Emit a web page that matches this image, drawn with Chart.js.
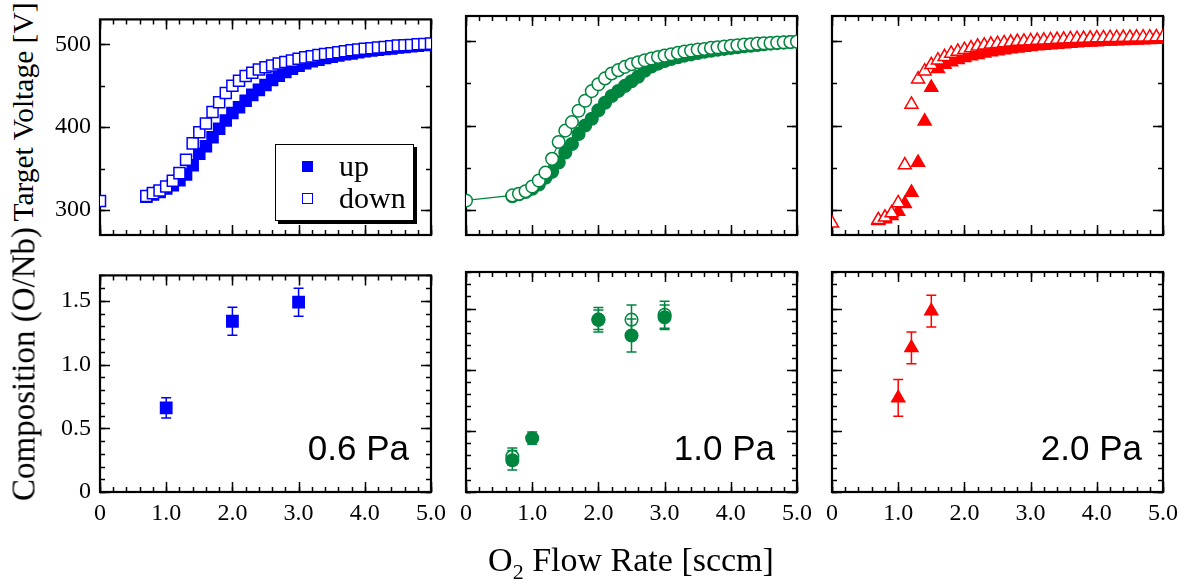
<!DOCTYPE html>
<html>
<head>
<meta charset="utf-8">
<script src="https://cdn.jsdelivr.net/npm/chart.js@4.4.1/dist/chart.umd.min.js"></script>
<style>
  body{margin:0;background:#fff;width:1188px;height:583px;position:relative;overflow:hidden;font-family:'Liberation Serif',serif;}
  canvas{position:absolute;}
  .t{position:absolute;white-space:nowrap;color:#000;}
  .rot{transform:translate(-50%,-50%) rotate(-90deg);}
  .pa{font-family:'Liberation Sans',Arial,sans-serif;font-size:35px;line-height:35px;top:430px;}
  #legend{position:absolute;left:275px;top:144px;width:137px;height:75px;border:1px solid #000;box-shadow:3px 3px 0 #000;background:#fff;}
  #legend .mk{position:absolute;left:26px;width:9px;height:9px;border:1.5px solid #0000ff;}
  #legend .tx{position:absolute;left:63px;font-size:30px;line-height:30px;}
</style>
</head>
<body>
<canvas id="p1"></canvas><canvas id="p2"></canvas><canvas id="p3"></canvas>
<canvas id="p4"></canvas><canvas id="p5"></canvas><canvas id="p6"></canvas>

<div class="t rot" style="left:23px;top:112px;font-size:29.5px;">Target Voltage [V]</div>
<div class="t rot" style="left:24px;top:364px;font-size:33px;">Composition (O/Nb)</div>
<div class="t" style="left:631px;top:543px;font-size:34px;line-height:34px;transform:translateX(-50%);">O<span style="font-size:22px;position:relative;top:8px;">2</span> Flow Rate [sccm]</div>

<div id="legend">
  <span class="mk" style="top:16px;background:#0000ff;"></span><span class="tx" style="top:6px;">up</span>
  <span class="mk" style="top:48px;background:#fff;"></span><span class="tx" style="top:38px;">down</span>
</div>

<div class="t pa" style="right:779px;">0.6 Pa</div>
<div class="t pa" style="right:413px;">1.0 Pa</div>
<div class="t pa" style="right:46px;">2.0 Pa</div>

<script>
// ---- data ----
const flowDown=[0,0.7,0.8,0.9,1.0,1.1,1.2,1.3,1.4,1.5,1.6,1.7,1.8,1.9,2.0,2.1,2.2,2.3,2.4,2.5,2.6,2.7,2.8,2.9,3.0,3.1,3.2,3.3,3.4,3.5,3.6,3.7,3.8,3.9,4.0,4.1,4.2,4.3,4.4,4.5,4.6,4.7,4.8,4.9,5.0];
const flowUp=[0.7,0.8,0.9,1.0,1.1,1.2,1.3,1.4,1.5,1.6,1.7,1.8,1.9,2.0,2.1,2.2,2.3,2.4,2.5,2.6,2.7,2.8,2.9,3.0,3.1,3.2,3.3,3.4,3.5,3.6,3.7,3.8,3.9,4.0,4.1,4.2,4.3,4.4,4.5,4.6,4.7,4.8,4.9,5.0];

// target voltage, 0.6 Pa
const voltUp06=[316,319,322,326,330,336,343,354,368,377,388,398,408,417,424,432,439,445,451,457,462,466.5,470.5,474,477,479.5,481.5,483.5,485,486.5,488,489,490.3,491.5,492.5,493.5,494.3,495,496,496.8,497.5,498.2,499,499.8];
const voltDown06=[311,317,320.5,323.7,328.4,335.5,344.6,360.7,380.5,393.9,404.5,418.3,430.2,441.2,449.9,455.9,461.8,465.7,469.6,472.4,474.3,476.7,478.7,480.3,482.6,484.2,485.4,487,488.2,489.3,490.5,491.7,492.9,493.7,494.5,495.3,496,496.8,497.6,498.4,498.8,499.2,500,500.4,500.8];
// target voltage, 1.0 Pa
const voltUp10=[316,318.5,321,325,330,338,345,356,368,378,390,400,408,418,427,435,441,447,452.5,458,465,470,473.5,476.5,479,481,483,484.5,486,487.5,488.8,490,491,492,493,494,494.8,495.6,496.4,497.2,497.8,498.4,499,499.5];
const voltDown10=[311,317,319,322,327.6,334.7,344,360.4,380.5,393.9,404,417.5,429.4,440.8,449,455.9,461.8,465.7,469.6,472.8,475.1,477.5,479.5,481.4,483,484.6,486.2,487.8,489,490.2,490.9,492.1,492.9,493.7,494.5,495.3,496,496.4,497.2,497.6,498,498.4,498.8,499.2,499.6];
// target voltage, 2.0 Pa
const voltUp20=[287,289,293,298,307,320.5,356,405,445,467.5,472.5,475.5,478,480.5,482.5,484,485.8,487.3,488.5,489.7,490.8,491.8,492.7,493.5,494.3,495,495.7,496.3,496.9,497.4,497.9,498.4,498.8,499.2,499.6,500,500.3,500.6,500.9,501.2,501.5,501.8,502,502.2];
const voltDown20=[284,288,291,296,308,353,425,455,464.5,472,477.5,481.5,485.5,488,490,492,494,495.2,496.4,497.2,498,498.8,499.6,500,500.4,500.8,501.2,501.6,502,502.3,502.7,503,503.2,503.5,503.8,504,504.2,504.3,504.4,504.6,504.7,504.8,504.9,505,505];

// composition O/Nb with error bars
const compFlow06=[1.0,2.0,3.0];
const comp06=[0.66,1.34,1.49];
const compErr06=[0.08,0.11,0.11];
const compFlow10=[0.7,1.0,2.0,2.5,3.0];
const comp10=[0.26,0.44,1.41,1.28,1.43];
const compErr10=[0.08,0.05,0.10,0.135,0.10];
const compFlow10open=[0.7,2.0,2.5,3.0];
const comp10open=[0.29,1.41,1.41,1.45];
const compErr10open=[0.07,0.08,0.12,0.11];
const compFlow20=[1.0,1.2,1.5];
const comp20=[0.77,1.18,1.48];
const compErr20=[0.15,0.13,0.13];

// axis ticks
const flowTicks=[0,1,2,3,4,5];
const flowTickLabels=['0','1.0','2.0','3.0','4.0','5.0'];
const voltTicks=[300,400,500];
const voltTickLabels=['300','400','500'];
const compTicks=[0,0.5,1.0,1.5];
const compTickLabels=['0','0.5','1.0','1.5'];

const BLUE='#0000ff', GREEN='#00853f', RED='#ff0000';

// ---- layout ----
const COLS=[100,466,832], PW=331;
const ROWS=[{top:16,h:219},{top:272,h:220}];
const PADL=60,PADT=20,PADR=30,PADB=40;

Chart.defaults.font.family='Liberation Serif';
Chart.defaults.color='#000';

function steps(a,b,s){const r=[];for(let v=a;v<=b+1e-9;v+=s)r.push(+v.toFixed(4));return r;}
function pts(xs,ys){return xs.map((x,i)=>({x,y:ys[i]}));}

const frameTicks={
  id:'frameTicks',
  beforeDatasetsDraw(chart,args,o){
    const {ctx,chartArea:a,scales:{x,y}}=chart;
    ctx.save();
    ctx.strokeStyle='#000';
    ctx.lineWidth=1.5;
    const xt=(vals,len)=>vals.forEach(v=>{
      const p=Math.round(x.getPixelForValue(v))+0.5;
      ctx.beginPath();ctx.moveTo(p,a.bottom);ctx.lineTo(p,a.bottom-len);
      ctx.moveTo(p,a.top);ctx.lineTo(p,a.top+len);ctx.stroke();
    });
    const yt=(vals,len)=>vals.forEach(v=>{
      const p=Math.round(y.getPixelForValue(v))+0.5;
      ctx.beginPath();ctx.moveTo(a.left,p);ctx.lineTo(a.left+len,p);
      ctx.moveTo(a.right,p);ctx.lineTo(a.right-len,p);ctx.stroke();
    });
    xt(o.xMinor,5);xt(o.xMajor,10);
    yt(o.yMinor,5);yt(o.yMajor,10);
    ctx.lineWidth=2.2;
    ctx.strokeRect(a.left,a.top,a.width,a.height);
    ctx.restore();
  }
};

const errorBars={
  id:'errorBars',
  beforeDatasetsDraw(chart){
    const {ctx,scales:{x,y}}=chart;
    chart.data.datasets.forEach(ds=>{
      if(!ds.errors) return;
      ctx.save();
      ctx.strokeStyle=ds.pointBorderColor;
      ctx.lineWidth=1.5;
      ds.data.forEach((p,i)=>{
        const e=ds.errors[i];
        const px=x.getPixelForValue(p.x),y1=y.getPixelForValue(p.y+e),y2=y.getPixelForValue(p.y-e);
        ctx.beginPath();
        ctx.moveTo(px,y1);ctx.lineTo(px,y2);
        ctx.moveTo(px-5,y1);ctx.lineTo(px+5,y1);
        ctx.moveTo(px-5,y2);ctx.lineTo(px+5,y2);
        ctx.stroke();
      });
      ctx.restore();
    });
  }
};

function panel(id,col,row,cfg){
  const cv=document.getElementById(id);
  const W=PADL+PW+PADR,H=PADT+ROWS[row].h+PADB;
  cv.width=W;cv.height=H;
  cv.style.left=(COLS[col]-PADL)+'px';
  cv.style.top=(ROWS[row].top-PADT)+'px';
  const font={family:'Liberation Serif',size:24};
  return new Chart(cv,{
    type:'scatter',
    data:{datasets:cfg.datasets},
    options:{
      responsive:false,animation:false,events:[],
      layout:{padding:{left:0,top:PADT,right:PADR,bottom:0}},
      plugins:{
        legend:{display:false},tooltip:{enabled:false},
        frameTicks:{xMajor:flowTicks,xMinor:steps(0,5,0.2),yMajor:cfg.yTicks,yMinor:cfg.yMinor}
      },
      scales:{
        x:{type:'linear',min:0,max:5,
          grid:{display:false,drawTicks:false},border:{display:false},
          afterBuildTicks:s=>{s.ticks=flowTicks.map(v=>({value:v}));},
          afterFit:s=>{s.height=PADB;},
          ticks:{display:row===1,padding:7,color:'#000',font,autoSkip:false,maxRotation:0,
            callback:(v,i)=>flowTickLabels[i]}},
        y:{type:'linear',min:cfg.yMin,max:cfg.yMax,
          grid:{display:false,drawTicks:false},border:{display:false},
          afterBuildTicks:s=>{s.ticks=cfg.yTicks.map(v=>({value:v}));},
          afterFit:s=>{s.width=PADL;},
          ticks:{display:col===0,padding:9,color:'#000',font,autoSkip:false,
            callback:(v,i)=>cfg.yLabels[i]}}
      }
    },
    plugins:[frameTicks,errorBars]
  });
}

function sweep(color,style,r,up,down,line){
  return [
    {data:pts(flowDown,down),order:0,pointStyle:style,pointRadius:r,pointBorderWidth:1.5,
      pointBorderColor:color,pointBackgroundColor:'#fff',showLine:!!line,borderColor:color,borderWidth:1.2},
    {data:pts(flowUp,up),order:1,pointStyle:style,pointRadius:r,pointBorderWidth:1.5,
      pointBorderColor:color,pointBackgroundColor:color,showLine:false}
  ];
}

function comp(color,style,r,xs,ys,errs,open){
  return {data:pts(xs,ys),errors:errs,pointStyle:style,pointRadius:r,pointBorderWidth:1.5,
    pointBorderColor:color,pointBackgroundColor:open?'rgba(0,0,0,0)':color,showLine:false};
}

function drawAll(){
  const voltCfg={yMin:270,yMax:530,yTicks:voltTicks,yLabels:voltTickLabels,yMinor:steps(300,500,50)};
  panel('p1',0,0,Object.assign({datasets:sweep(BLUE,'rect',7.8,voltUp06,voltDown06,false)},voltCfg));
  panel('p2',1,0,Object.assign({datasets:sweep(GREEN,'circle',6.3,voltUp10,voltDown10,true)},voltCfg));
  panel('p3',2,0,Object.assign({datasets:sweep(RED,'triangle',7.5,voltUp20,voltDown20,false)},voltCfg));

  panel('p4',0,1,{yMin:0,yMax:1.7,yTicks:compTicks,yLabels:compTickLabels,yMinor:steps(0,1.7,0.1),
    datasets:[comp(BLUE,'rect',8,compFlow06,comp06,compErr06,false)]});
  panel('p5',1,1,{yMin:0,yMax:1.8,yTicks:compTicks,yLabels:compTickLabels,yMinor:steps(0,1.8,0.1),
    datasets:[comp(GREEN,'circle',6.3,compFlow10,comp10,compErr10,false),
              comp(GREEN,'circle',6.3,compFlow10open,comp10open,compErr10open,true)]});
  panel('p6',2,1,{yMin:0,yMax:1.8,yTicks:compTicks,yLabels:compTickLabels,yMinor:steps(0,1.8,0.1),
    datasets:[comp(RED,'triangle',7.5,compFlow20,comp20,compErr20,false)]});
}

// make sure the serif face is ready before the canvases draw their tick labels
document.fonts.load('24px "Liberation Serif"').then(drawAll,drawAll);
</script>
</body>
</html>
